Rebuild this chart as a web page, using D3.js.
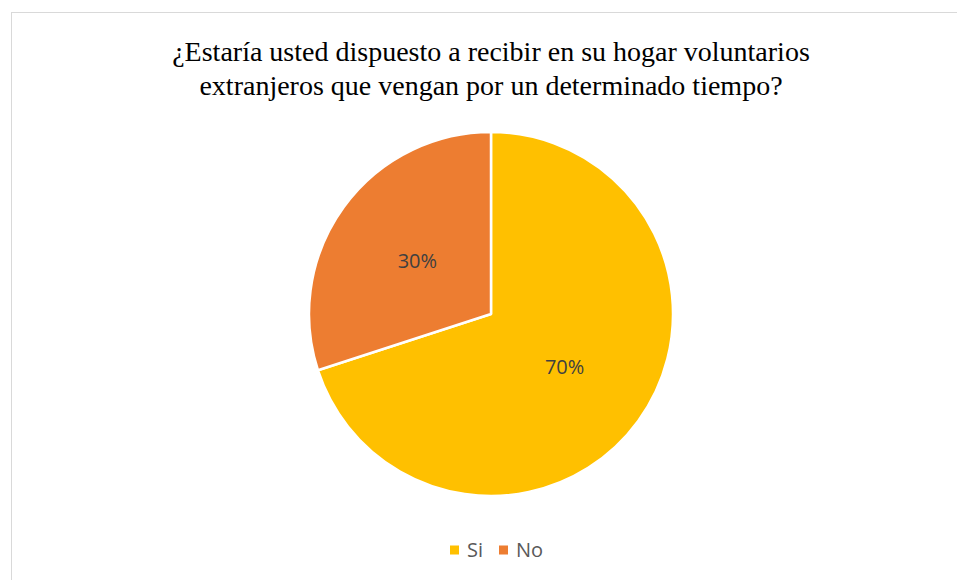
<!DOCTYPE html>
<html>
<head>
    <meta charset="utf-8">
    <title>Voluntarios extranjeros</title>
    <script src="https://d3js.org/d3.v7.min.js"></script>
    <style>
        body { margin: 0; background: #fff; }
    </style>
</head>
<body>
    <div id="chart"></div>
    <script>
        // Chart data
        const categories = ["Si", "No"];
        const values = [70, 30];
        const colors = ["#FFC000", "#ED7D31"];
        const titleLines = [
            "¿Estaría usted dispuesto a recibir en su hogar voluntarios",
            "extranjeros que vengan por un determinado tiempo?"
        ];

        const width = 957, height = 580;
        const cx = 491, cy = 314, radius = 182;

        const svg = d3.select("#chart")
            .append("svg")
            .attr("width", width)
            .attr("height", height);

        // Chart frame
        svg.append("rect")
            .attr("x", 11.5)
            .attr("y", 12.5)
            .attr("width", 960)
            .attr("height", 600)
            .attr("fill", "white")
            .attr("stroke", "#d9d9d9")
            .attr("stroke-width", 1);

        // Title
        svg.append("g")
            .selectAll("text")
            .data(titleLines)
            .enter()
            .append("text")
            .attr("x", 491)
            .attr("y", (d, i) => 61 + i * 34)
            .attr("text-anchor", "middle")
            .style("font-family", "'Liberation Serif', 'Times New Roman', serif")
            .style("font-size", "28px")
            .style("fill", "#000")
            .text(d => d);

        const data = categories.map((c, i) => ({ name: c, value: values[i], color: colors[i] }));

        const pie = d3.pie().sort(null).value(d => d.value);
        const arc = d3.arc().innerRadius(0).outerRadius(radius);
        const total = d3.sum(values);

        const g = svg.append("g").attr("transform", `translate(${cx},${cy})`);

        g.selectAll("path")
            .data(pie(data))
            .enter()
            .append("path")
            .attr("d", arc)
            .attr("fill", d => d.data.color)
            .attr("stroke", "white")
            .attr("stroke-width", 2.5)
            .attr("stroke-linejoin", "round");

        g.selectAll(".label")
            .data(pie(data))
            .enter()
            .append("text")
            .attr("class", "label")
            .attr("transform", d => `translate(${arc.centroid(d)})`)
            .attr("text-anchor", "middle")
            .attr("dy", "0.35em")
            .style("font-family", "'Open Sans', 'Liberation Sans', sans-serif")
            .style("font-size", "20px")
            .style("fill", "#404040")
            .text(d => Math.round(d.data.value / total * 100) + "%");

        // Legend
        const legendX = [450, 499];
        const legend = svg.append("g").attr("transform", "translate(0,550)");
        const items = legend.selectAll("g")
            .data(data)
            .enter()
            .append("g")
            .attr("transform", (d, i) => `translate(${legendX[i]},0)`);

        items.append("rect")
            .attr("x", 0)
            .attr("y", -4.5)
            .attr("width", 9)
            .attr("height", 9)
            .attr("fill", d => d.color);

        items.append("text")
            .attr("x", 17)
            .attr("y", 0)
            .attr("dy", "0.35em")
            .style("font-family", "'Open Sans', 'Liberation Sans', sans-serif")
            .style("font-size", "20px")
            .style("fill", "#595959")
            .text(d => d.name);
    </script>
</body>
</html>
